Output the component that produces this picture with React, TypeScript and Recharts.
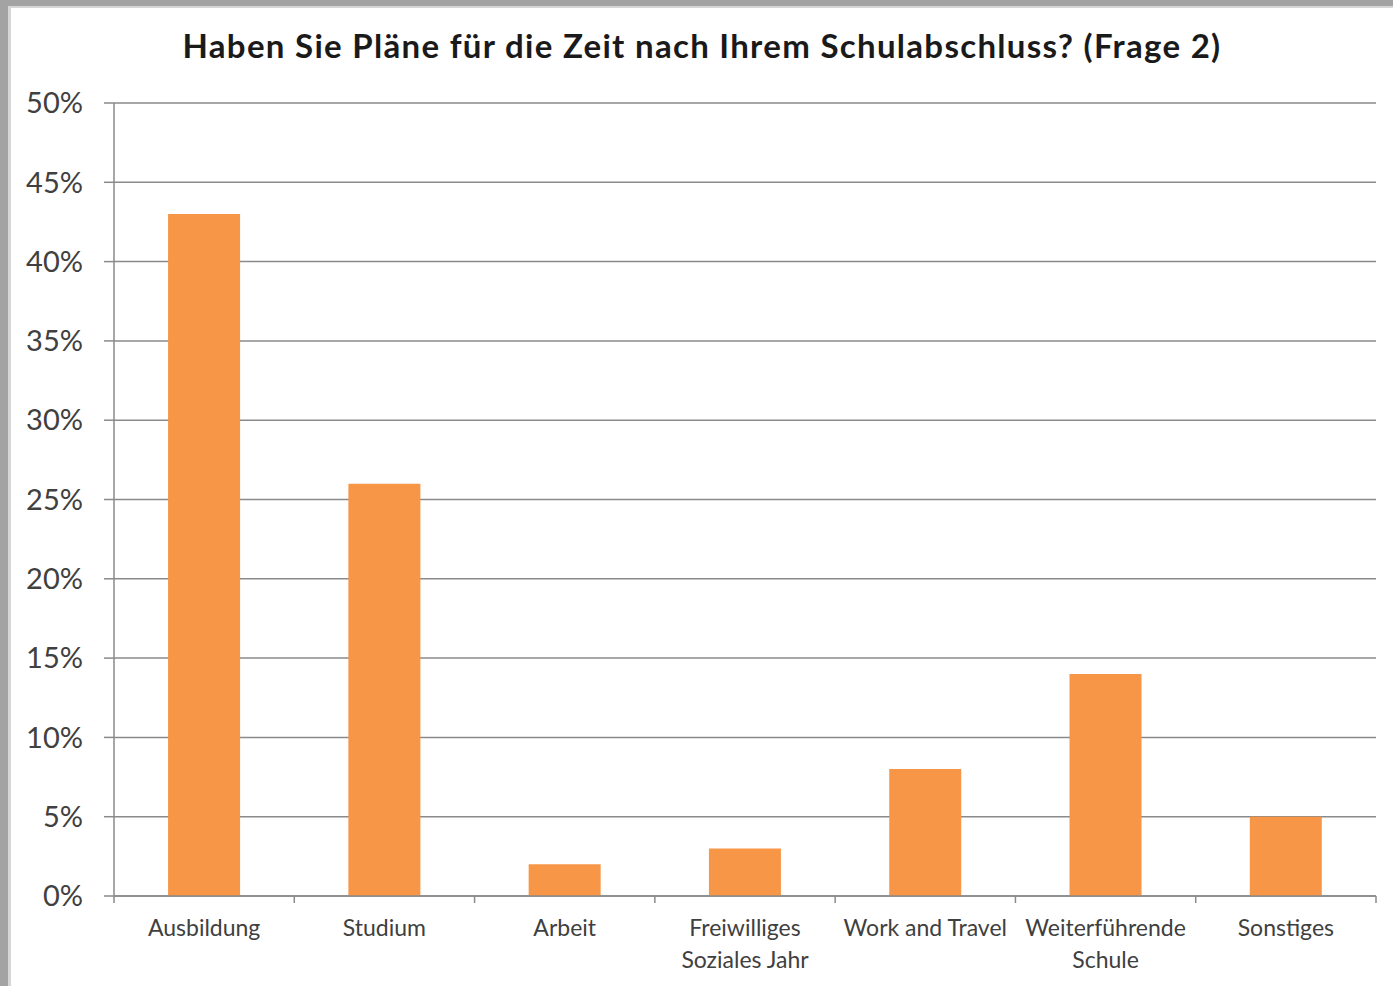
import React from "react";
import { BarChart, Bar, XAxis, YAxis, CartesianGrid } from "recharts";

const categories = [
  "Ausbildung",
  "Studium",
  "Arbeit",
  "Freiwilliges|Soziales Jahr",
  "Work and Travel",
  "Weiterführende|Schule",
  "Sonstiges",
];
const values = [43, 26, 2, 3, 8, 14, 5];
const yTicks = [0, 5, 10, 15, 20, 25, 30, 35, 40, 45, 50];
const title = "Haben Sie Pläne für die Zeit nach Ihrem Schulabschluss? (Frage 2)";

const data = categories.map((c, i) => ({ name: c, value: values[i] }));

const FONT = "Lato, 'Open Sans', sans-serif";
const AXIS = "#8a8a8a";
const TEXT = "#404040";

const CatTick = (props: any) => {
  const { x, y, payload, index } = props;
  const off = payload && payload.offset ? payload.offset : 90;
  const lines = String(payload.value).split("|");
  return (
    <g>
      <line x1={x - off} x2={x - off} y1={y} y2={y + 7} stroke={AXIS} strokeWidth={1.5} />
      {index === categories.length - 1 && (
        <line x1={x + off} x2={x + off} y1={y} y2={y + 7} stroke={AXIS} strokeWidth={1.5} />
      )}
      <text textAnchor="middle" fill={TEXT} fontFamily={FONT} fontSize={23}>
        {lines.map((l, i) => (
          <tspan key={i} x={x} y={y + 40 + i * 32}>
            {l}
          </tspan>
        ))}
      </text>
    </g>
  );
};

export default function App() {
  return (
    <div
      style={{
        position: "absolute",
        left: 0,
        top: 0,
        width: 1393,
        height: 986,
        background: "#ffffff",
        overflow: "hidden",
      }}
    >
      <div style={{ position: "absolute", left: 0, top: 0, width: 8, height: 986, background: "#a3a3a3" }} />
      <div style={{ position: "absolute", left: 8, top: 0, width: 3, height: 986, background: "#d6d6d6" }} />
      <div style={{ position: "absolute", left: 0, top: 0, width: 1393, height: 6, background: "#a3a3a3" }} />
      <div style={{ position: "absolute", left: 8, top: 6, width: 1385, height: 2, background: "#d6d6d6" }} />
      <div
        style={{
          position: "absolute",
          left: 0,
          top: 25,
          width: 1404,
          textAlign: "center",
          fontFamily: FONT,
          fontWeight: 700,
          fontSize: 33,
          letterSpacing: 1.3,
          color: "#1a1a1a",
          whiteSpace: "nowrap",
        }}
      >
        {title}
      </div>
      <div style={{ position: "absolute", left: 0, top: 0 }}>
        <BarChart
          width={1393}
          height={986}
          data={data}
          margin={{ top: 103, right: 17, bottom: 0, left: 10 }}
          barCategoryGap="30%"
        >
          <CartesianGrid vertical={false} stroke={AXIS} strokeWidth={1.5} />
          <XAxis
            dataKey="name"
            height={90}
            tickLine={false}
            tickSize={0}
            tickMargin={0}
            axisLine={{ stroke: AXIS, strokeWidth: 1.5 }}
            tick={<CatTick />}
            interval={0}
          />
          <YAxis
            width={104}
            domain={[0, 50]}
            ticks={yTicks}
            tickFormatter={(v: number) => `${v}%`}
            tickSize={10}
            tickMargin={21}
            tickLine={{ stroke: AXIS, strokeWidth: 1.5 }}
            axisLine={{ stroke: AXIS, strokeWidth: 1.5 }}
            tick={{ fill: TEXT, fontFamily: FONT, fontSize: 29 }}
            interval={0}
          />
          <Bar dataKey="value" fill="#F79646" isAnimationActive={false} />
        </BarChart>
      </div>
    </div>
  );
}
